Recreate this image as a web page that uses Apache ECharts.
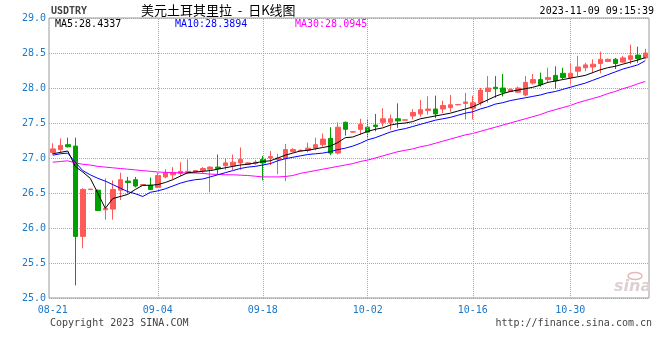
<!DOCTYPE html>
<html><head><meta charset="utf-8">
<script src="https://cdn.jsdelivr.net/npm/echarts@6/dist/echarts.min.js"></script>
<style>html,body{margin:0;padding:0;background:#fff}#c{width:660px;height:360px}</style>
</head><body><div id="c"></div><script>
const dates = ['08-21','08-22','08-23','08-24','08-25','08-26','08-27','08-28','08-29','08-30','08-31',
'09-01','09-02','09-03','09-04','09-05','09-06','09-07','09-08','09-09','09-10','09-11','09-12','09-13','09-14','09-15','09-16','09-17','09-18','09-19','09-20','09-21','09-22','09-23','09-24','09-25','09-26','09-27','09-28','09-29','09-30',
'10-01','10-02','10-03','10-04','10-05','10-06','10-07','10-08','10-09','10-10','10-11','10-12','10-13','10-14','10-15','10-16','10-17','10-18','10-19','10-20','10-21','10-23','10-24','10-25','10-26','10-27','10-28','10-29','10-30','10-31',
'11-01','11-02','11-03','11-04','11-05','11-06','11-07','11-08','11-09'];
const labelDates = ['08-21','09-04','09-18','10-02','10-16','10-30'];
const gridDates = ['09-04','09-18','10-02','10-16','10-30'];
const opens = [27.08,27.12,27.19,27.17,25.88,26.55,26.54,26.26,26.27,26.54,26.67,26.69,26.61,26.61,26.58,26.73,26.76,26.78,26.79,26.80,
26.82,26.84,26.87,26.89,26.89,26.93,26.91,26.92,26.98,27.00,26.98,26.99,27.09,27.10,27.11,27.14,27.19,27.28,27.07,27.51,
27.37,27.41,27.44,27.47,27.51,27.51,27.56,27.54,27.60,27.63,27.68,27.70,27.70,27.72,27.76,27.78,27.71,27.79,27.95,28.01,
28.00,27.95,27.94,27.90,28.07,28.12,28.12,28.18,28.21,28.15,28.24,28.29,28.30,28.35,28.38,28.41,28.37,28.41,28.47,28.43];
const closes = [27.13,27.18,27.16,25.88,26.55,26.555,26.25,26.28,26.55,26.69,26.65,26.60,26.62,26.55,26.75,26.79,26.79,26.81,26.81,26.82,
26.85,26.87,26.85,26.93,26.94,26.98,26.93,26.94,26.93,27.02,27.00,27.12,27.12,27.11,27.14,27.19,27.27,27.07,27.44,27.41,
27.375,27.48,27.37,27.45,27.56,27.56,27.53,27.545,27.65,27.69,27.70,27.63,27.75,27.76,27.765,27.80,27.79,27.97,28.00,27.99,
27.94,27.98,28.00,28.08,28.12,28.05,28.15,28.10,28.15,28.21,28.30,28.33,28.34,28.41,28.41,28.35,28.43,28.46,28.42,28.50];
const lows = [27.05,27.07,27.15,25.18,25.71,26.54,26.25,26.12,26.12,26.40,26.50,26.58,26.60,26.55,26.57,26.71,26.70,26.74,26.77,26.79,
26.78,26.51,26.77,26.83,26.83,26.83,26.90,26.90,26.68,26.90,26.77,26.67,27.08,27.10,27.08,27.11,27.16,27.04,27.05,27.32,
27.36,27.33,27.28,27.38,27.45,27.40,27.43,27.535,27.55,27.59,27.62,27.57,27.64,27.66,27.755,27.55,27.55,27.75,27.79,27.86,
27.88,27.94,27.93,27.88,28.05,28.02,28.07,27.99,28.12,28.05,28.17,28.24,28.21,28.21,28.37,28.27,28.36,28.34,28.36,28.41];
const highs = [27.21,27.28,27.29,27.29,26.57,26.56,26.55,26.71,26.68,26.79,26.73,26.73,26.625,26.72,26.79,26.84,26.87,26.94,26.98,26.83,
26.87,26.88,27.05,27.00,27.05,27.15,26.94,26.97,27.03,27.10,27.06,27.20,27.14,27.12,27.22,27.29,27.35,27.44,27.51,27.52,
27.38,27.56,27.56,27.63,27.71,27.62,27.78,27.55,27.70,27.83,27.88,27.89,27.82,27.90,27.77,27.93,27.89,28.00,28.17,28.17,
28.20,27.99,28.02,28.17,28.20,28.22,28.29,28.31,28.29,28.36,28.46,28.36,28.41,28.52,28.42,28.43,28.46,28.62,28.59,28.56];
const ma5 = [27.06,27.08,27.10,26.88,26.80,26.71,26.50,26.28,26.42,26.45,26.48,26.55,26.61,26.61,26.62,26.65,26.69,26.74,26.79,26.80,
26.81,26.82,26.84,26.86,26.88,26.90,26.91,26.93,26.95,26.96,27.00,27.04,27.07,27.10,27.11,27.13,27.15,27.17,27.22,27.29,
27.30,27.34,27.38,27.41,27.43,27.47,27.49,27.50,27.52,27.56,27.58,27.60,27.62,27.64,27.67,27.70,27.73,27.78,27.83,27.88,
27.92,27.95,27.97,27.99,28.01,28.04,28.08,28.10,28.12,28.14,28.16,28.18,28.22,28.26,28.29,28.31,28.34,28.37,28.40,28.4337];
const ma10 = [27.04,27.06,27.07,26.94,26.82,26.76,26.71,26.67,26.62,26.57,26.52,26.49,26.45,26.51,26.53,26.56,26.60,26.64,26.67,26.69,
26.70,26.73,26.76,26.79,26.82,26.85,26.87,26.88,26.90,26.92,26.96,26.99,27.01,27.03,27.05,27.06,27.07,27.09,27.12,27.14,
27.17,27.21,27.26,27.29,27.33,27.37,27.40,27.42,27.45,27.48,27.51,27.54,27.56,27.58,27.61,27.64,27.66,27.70,27.73,27.77,
27.79,27.82,27.84,27.86,27.88,27.90,27.93,27.95,27.98,28.01,28.04,28.07,28.11,28.15,28.19,28.23,28.27,28.30,28.33,28.3894];
const ma30 = [26.94,26.95,26.96,26.93,26.91,26.90,26.88,26.87,26.86,26.85,26.84,26.83,26.82,26.81,26.80,26.795,26.79,26.79,26.785,26.785,
26.78,26.77,26.765,26.76,26.76,26.755,26.75,26.74,26.73,26.73,26.73,26.735,26.75,26.78,26.80,26.82,26.84,26.86,26.88,26.90,
26.92,26.95,26.97,27.00,27.03,27.06,27.09,27.11,27.13,27.16,27.18,27.21,27.24,27.27,27.30,27.33,27.35,27.38,27.41,27.44,
27.47,27.50,27.53,27.56,27.59,27.62,27.66,27.69,27.72,27.75,27.79,27.82,27.85,27.88,27.92,27.95,27.99,28.02,28.06,28.0945];
const legendTexts = ['MA5:28.4337','MA10:28.3894','MA30:28.0945'];

const MONO = '"DejaVu Sans Mono", monospace';
const BLUE = '#1a78c8';
const kData = opens.map((o, i) => [o, closes[i], lows[i], highs[i]]);

const chart = echarts.init(document.getElementById('c'), null, {renderer: 'canvas'});
chart.setOption({
  animation: false,
  backgroundColor: '#fff',
  grid: {left: 49, right: 11, top: 18, bottom: 62, show: true, borderColor: '#9a9a9a', borderWidth: 1, backgroundColor: 'transparent'},
  xAxis: {
    type: 'category', data: dates, boundaryGap: true,
    axisLine: {show: false}, axisTick: {show: false}, splitLine: {show: false},
    axisLabel: {
      interval: 0,
      formatter: v => (labelDates.indexOf(v) >= 0 ? v : ''),
      color: BLUE, fontFamily: MONO, fontSize: 10, margin: 7, hideOverlap: false
    }
  },
  yAxis: {
    type: 'value', min: 25, max: 29, interval: 0.5, scale: true,
    axisLine: {show: false}, axisTick: {show: false},
    splitLine: {show: true, lineStyle: {type: 'dotted', color: '#a8a8a8', width: 1}},
    axisLabel: {color: BLUE, fontFamily: MONO, fontSize: 10, margin: 3, formatter: v => v.toFixed(1)}
  },
  series: [
    {
      type: 'line', data: [], z: 1, silent: true,
      markLine: {
        silent: true, symbol: ['none', 'none'], label: {show: false}, animation: false,
        lineStyle: {type: 'dotted', color: '#a8a8a8', width: 1},
        data: gridDates.map(d => ({xAxis: d}))
      }
    },
    {
      type: 'candlestick', data: kData, barWidth: 5, z: 3,
      itemStyle: {color: '#ff5a5a', color0: '#00a000', borderColor: '#ff5a5a', borderColor0: '#00a000', borderWidth: 1}
    },
    {type: 'line', data: ma30, z: 4, symbol: 'none', lineStyle: {color: '#ff00ff', width: 1}},
    {type: 'line', data: ma10, z: 5, symbol: 'none', lineStyle: {color: '#0000ff', width: 1}},
    {type: 'line', data: ma5, z: 6, symbol: 'none', lineStyle: {color: '#000000', width: 1}}
  ],
  graphic: [
    {type: 'text', left: 51, top: 6, style: {text: 'USDTRY', font: 'bold 10px "DejaVu Sans Mono"', fill: '#444'}},
    {type: 'text', left: 141, top: 4, style: {text: '美元土耳其里拉  -  日K线图', font: '13px "Noto Sans CJK SC"', fill: '#000'}},
    {type: 'text', right: 6, top: 6, style: {text: '2023-11-09 09:15:39', font: '10px "DejaVu Sans Mono"', fill: '#000'}},
    {type: 'text', left: 55, top: 19, style: {text: legendTexts[0], font: '10px "DejaVu Sans Mono"', fill: '#000'}},
    {type: 'text', left: 175, top: 19, style: {text: legendTexts[1], font: '10px "DejaVu Sans Mono"', fill: '#0000ff'}},
    {type: 'text', left: 295, top: 19, style: {text: legendTexts[2], font: '10px "DejaVu Sans Mono"', fill: '#ff00ff'}},
    {type: 'text', left: 50, top: 318, style: {text: 'Copyright 2023 SINA.COM', font: '10px "DejaVu Sans Mono"', fill: '#444'}},
    {type: 'text', right: 8, top: 318, style: {text: 'http://finance.sina.com.cn', font: '10px "DejaVu Sans Mono"', fill: '#444'}},
    {type: 'text', left: 614, top: 279, style: {text: 'sina', font: 'italic bold 16px "DejaVu Sans"', fill: '#ddd0d0'}},
    {type: 'ellipse', shape: {cx: 635, cy: 276, rx: 7, ry: 3.5}, style: {fill: 'none', stroke: '#e8b8b8', lineWidth: 1.5}}
  ]
});
</script></body></html>
